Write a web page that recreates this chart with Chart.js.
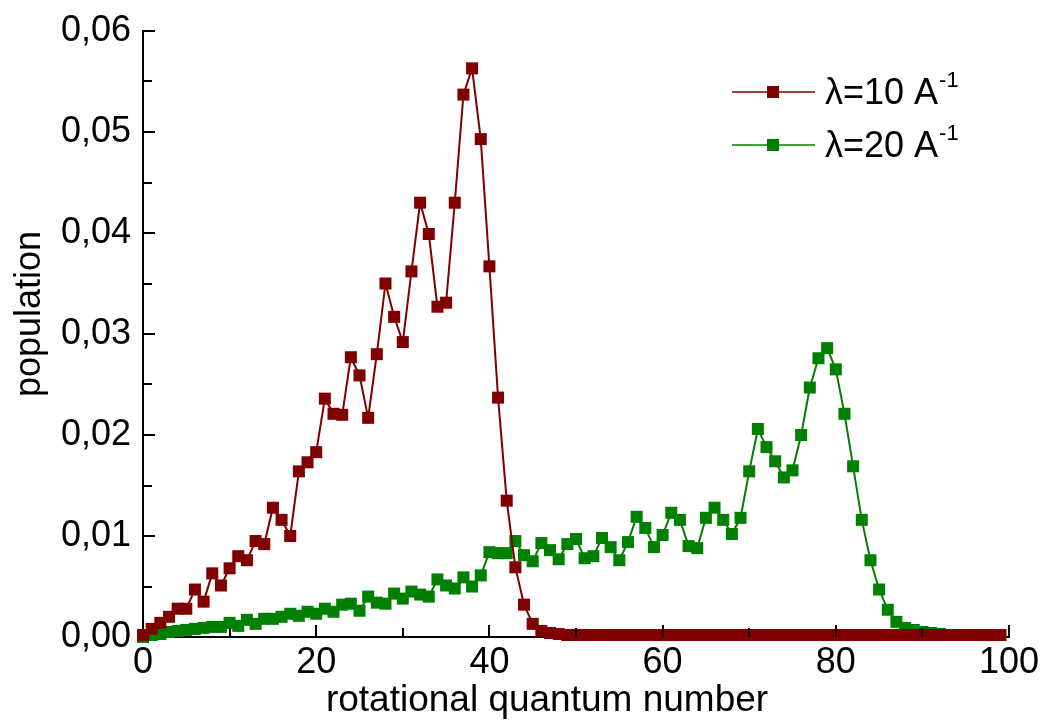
<!DOCTYPE html>
<html>
<head>
<meta charset="utf-8">
<script src="https://cdn.jsdelivr.net/npm/chart.js@4.4.1/dist/chart.umd.min.js"></script>
<style>
  body { margin: 0; background: #fff; }
  #wrap { width: 1050px; height: 722px; }
</style>
</head>
<body>
<div id="wrap"><canvas id="myChart" width="1050" height="722"></canvas></div>
<script>
// rotational quantum number J = 0..99
var quantumNumbers = Array.from({ length: 100 }, function (_, j) { return j; });

var lambda10 = [
    0.0002, 0.0008, 0.0014, 0.0020, 0.0028, 0.0028, 0.0047, 0.0035, 0.0063, 0.0051,
    0.0068, 0.0080, 0.0076, 0.0095, 0.0092, 0.0128, 0.0116, 0.0100, 0.0164, 0.0173,
    0.0183, 0.0236, 0.0221, 0.0220, 0.0277, 0.0259, 0.0217, 0.0280, 0.0350, 0.0317,
    0.0292, 0.0362, 0.0430, 0.0399, 0.0327, 0.0331, 0.0430, 0.0537, 0.0563, 0.0493,
    0.0367, 0.0237, 0.0135, 0.0069, 0.0032, 0.0013, 0.0006, 0.0004, 0.0003, 0.0002,
    0.0002, 0.0002, 0.0002, 0.0002, 0.0002, 0.0002, 0.0002, 0.0002, 0.0002, 0.0002,
    0.0002, 0.0002, 0.0002, 0.0002, 0.0002, 0.0002, 0.0002, 0.0002, 0.0002, 0.0002,
    0.0002, 0.0002, 0.0002, 0.0002, 0.0002, 0.0002, 0.0002, 0.0002, 0.0002, 0.0002,
    0.0002, 0.0002, 0.0002, 0.0002, 0.0002, 0.0002, 0.0002, 0.0002, 0.0002, 0.0002,
    0.0002, 0.0002, 0.0002, 0.0002, 0.0002, 0.0002, 0.0002, 0.0002, 0.0002, 0.0002
];

var lambda20 = [
    0.0000, 0.0002, 0.0003, 0.0005, 0.0006, 0.0007, 0.0008, 0.0009, 0.0010, 0.0010,
    0.0014, 0.0011, 0.0017, 0.0013, 0.0018, 0.0018, 0.0020, 0.0023, 0.0021, 0.0025,
    0.0023, 0.0028, 0.0025, 0.0032, 0.0033, 0.0026, 0.0040, 0.0034, 0.0033, 0.0043,
    0.0038, 0.0045, 0.0042, 0.0040, 0.0057, 0.0051, 0.0048, 0.0059, 0.0050, 0.0061,
    0.0084, 0.0083, 0.0083, 0.0095, 0.0081, 0.0075, 0.0093, 0.0086, 0.0077, 0.0092,
    0.0097, 0.0078, 0.0080, 0.0098, 0.0089, 0.0076, 0.0094, 0.0119, 0.0108, 0.0089,
    0.0101, 0.0123, 0.0116, 0.0090, 0.0088, 0.0118, 0.0128, 0.0116, 0.0102, 0.0118,
    0.0164, 0.0206, 0.0188, 0.0174, 0.0158, 0.0165, 0.0200, 0.0247, 0.0276, 0.0286,
    0.0265, 0.0221, 0.0169, 0.0116, 0.0076, 0.0047, 0.0027, 0.0015, 0.0009, 0.0007,
    0.0005, 0.0004, 0.0003, 0.0002, 0.0002, 0.0002, 0.0002, 0.0002, 0.0002, 0.0002
];

var seriesNames = ["λ=10 A", "λ=20 A"];
var seriesSup = "-1";
var seriesColors = ["#800000", "#008000"];

var xTickValues = [0, 20, 40, 60, 80, 100];
var yTickValues = [0, 0.01, 0.02, 0.03, 0.04, 0.05, 0.06];
var yTickLabels = ["0,00", "0,01", "0,02", "0,03", "0,04", "0,05", "0,06"];

var FONT = "'Liberation Sans', Arial, sans-serif";

function toPoints(values) {
    return values.map(function (v, i) { return { x: quantumNumbers[i], y: v }; });
}

// ticks pointing inwards, drawn from the axis lines, plus the axis titles
var inwardTicks = {
    id: 'inwardTicks',
    afterDraw: function (chart) {
        var ctx = chart.ctx, x = chart.scales.x, y = chart.scales.y;
        ctx.save();
        ctx.strokeStyle = '#000';
        ctx.lineWidth = 2;
        ctx.beginPath();
        for (var i = 1; i <= 10; i++) {
            var px = Math.round(x.getPixelForValue(i * 10));
            var len = i % 2 === 0 ? 12 : 9;
            ctx.moveTo(px, y.bottom);
            ctx.lineTo(px, y.bottom - len);
        }
        for (var k = 1; k <= 12; k++) {
            var py = Math.round(y.getPixelForValue(k * 0.005));
            var l2 = k % 2 === 0 ? 12 : 9;
            ctx.moveTo(x.left, py);
            ctx.lineTo(x.left + l2, py);
        }
        ctx.stroke();

        ctx.fillStyle = '#000';
        ctx.font = '37px ' + FONT;
        ctx.textAlign = 'center';
        ctx.textBaseline = 'alphabetic';
        ctx.fillText('rotational quantum number', 547, 711);

        // y axis title, sits a bit above the middle of the axis
        ctx.font = '36px ' + FONT;
        ctx.textBaseline = 'middle';
        ctx.translate(30, 314);
        ctx.rotate(-Math.PI / 2);
        ctx.fillText('population', 0, 0);
        ctx.restore();
    }
};

// legend with superscript
var supLegend = {
    id: 'supLegend',
    afterDraw: function (chart) {
        var ctx = chart.ctx;
        ctx.save();
        chart.data.datasets.forEach(function (ds, i) {
            var cy = 92 + i * 53;
            ctx.strokeStyle = ds.borderColor;
            ctx.lineWidth = 1.5;
            ctx.beginPath();
            ctx.moveTo(732, cy);
            ctx.lineTo(815, cy);
            ctx.stroke();
            ctx.fillStyle = ds.borderColor;
            ctx.fillRect(767, cy - 6, 12, 12);
            ctx.fillStyle = '#000';
            ctx.textBaseline = 'alphabetic';
            ctx.font = '36px ' + FONT;
            var base = cy + 12;
            ctx.fillText(seriesNames[i], 825, base);
            var w = ctx.measureText(seriesNames[i]).width;
            ctx.font = '22px ' + FONT;
            ctx.fillText(seriesSup, 825 + w + 1, base - 17);
        });
        ctx.restore();
    }
};

function lineDataset(idx, values) {
    return {
        label: seriesNames[idx],
        data: toPoints(values),
        borderColor: seriesColors[idx],
        backgroundColor: seriesColors[idx],
        pointBackgroundColor: seriesColors[idx],
        borderWidth: 2,
        pointStyle: 'rect',
        pointRadius: 8.5,
        pointBorderWidth: 0,
        tension: 0,
        clip: false
    };
}

new Chart("myChart", {
    type: "line",
    data: {
        datasets: [lineDataset(0, lambda10), lineDataset(1, lambda20)]
    },
    options: {
        responsive: false,
        animation: false,
        layout: { padding: { top: 31, right: 41, left: 0, bottom: 0 } },
        plugins: {
            legend: { display: false },
            tooltip: { enabled: false }
        },
        scales: {
            x: {
                type: 'linear',
                min: 0,
                max: 100,
                afterBuildTicks: function (s) { s.ticks = xTickValues.map(function (v) { return { value: v }; }); },
                afterFit: function (s) { s.height = 85; s.paddingLeft = 0; s.paddingRight = 0; },
                grid: { display: false, drawTicks: false },
                border: { display: true, color: '#000', width: 2 },
                ticks: { color: '#000', font: { family: FONT, size: 36 }, padding: 4, maxRotation: 0, autoSkip: false }
            },
            y: {
                min: 0,
                max: 0.06,
                afterBuildTicks: function (s) { s.ticks = yTickValues.map(function (v) { return { value: v }; }); },
                afterFit: function (s) { s.width = 143; s.paddingTop = 0; s.paddingBottom = 0; },
                grid: { display: false, drawTicks: false },
                border: { display: true, color: '#000', width: 2 },
                ticks: {
                    color: '#000',
                    font: { family: FONT, size: 36 },
                    padding: 12,
                    autoSkip: false,
                    callback: function (v, i) { return yTickLabels[i]; }
                }
            }
        }
    },
    plugins: [inwardTicks, supLegend]
});
</script>
</body>
</html>
